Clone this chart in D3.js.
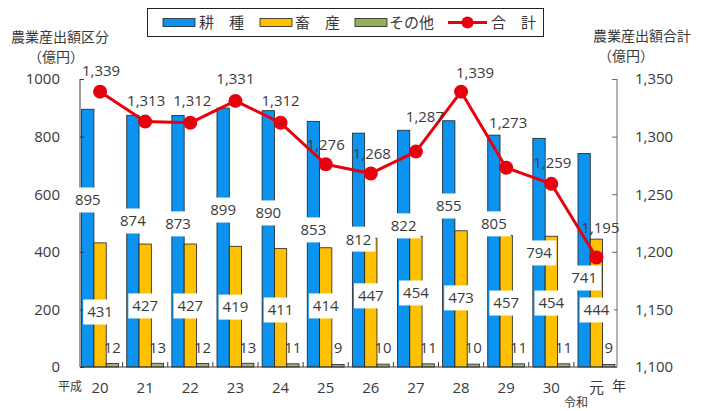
<!DOCTYPE html>
<html lang="ja">
<head>
<meta charset="utf-8">
<script src="https://cdn.jsdelivr.net/npm/d3@7"></script>
<style>
  html, body { margin: 0; padding: 0; background: #fff; }
  svg { display: block; }
  text { fill: #3a3a3a; }
</style>
</head>
<body>
<svg id="chart" width="707" height="411"></svg>
<script>
// 年次（平成20年〜令和元年）
const years = ["20", "21", "22", "23", "24", "25", "26", "27", "28", "29", "30", "元"];
// 部門別の農業産出額（億円）
const kousyu = [895, 874, 873, 899, 890, 853, 812, 822, 855, 805, 794, 741];
const chikusan = [431, 427, 427, 419, 411, 414, 447, 454, 473, 457, 454, 444];
const sonota = [12, 13, 12, 13, 11, 9, 10, 11, 10, 11, 11, 9];
// 農業産出額合計（億円）
const goukei = [1339, 1313, 1312, 1331, 1312, 1276, 1268, 1287, 1339, 1273, 1259, 1195];
// 軸目盛
const leftTicks = [0, 200, 400, 600, 800, 1000];
const rightTicks = [1100, 1150, 1200, 1250, 1300, 1350];

// ---- layout -------------------------------------------------------------
const W = 707, H = 411;
const axisLeftX = 80, axisRightX = 617, baseY = 367, topY = 79;
const NUM_FONT = "'Open Sans', 'Liberation Sans', sans-serif";
const JP_FONT = "'Noto Sans CJK JP', 'Noto Sans', sans-serif";
const COLORS = { kousyu: "#0c93ef", chikusan: "#ffc000", sonota: "#a3ad80", goukei: "#e8000d" };

// label heights, in left-axis units, for the boxed bar labels
const kousyuLabelAt = [580, 507, 497, 545, 535, 476, 444, 490, 559, 497, 396, 309];
const chikusanLabelAt = [191, 212, 212, 208, 198, 212, 247, 257, 240, 222, 222, 198];
const sonotaLabelAt = 66;
// offsets (px) of the total labels from their markers
const goukeiLabelOffset = [[1, -21], [1, -21], [2, -22], [0, -22], [0, -22], [0, -20],
  [1, -20], [9, -35], [14, -19], [2, -45], [1, -21], [4, -30]];

const svg = d3.select("#chart");

const x = d3.scaleBand().domain(years).range([77.5, 619]).paddingInner(0).paddingOuter(0);
const yL = d3.scaleLinear().domain([0, 1000]).range([baseY, topY]);
const yR = d3.scaleLinear().domain([1100, 1350]).range([baseY, topY]);

const barW = 12.3;
const series = [
  { key: "kousyu", values: kousyu, color: COLORS.kousyu },
  { key: "chikusan", values: chikusan, color: COLORS.chikusan },
  { key: "sonota", values: sonota, color: COLORS.sonota }
];
const barX = (i, s) => x(years[i]) + x.bandwidth() / 2 - 1.5 * barW + s * barW;

// ---- bars ---------------------------------------------------------------
series.forEach((s, si) => {
  svg.append("g").selectAll("rect").data(s.values).join("rect")
    .attr("x", (d, i) => barX(i, si))
    .attr("y", d => yL(d))
    .attr("width", barW)
    .attr("height", d => baseY - yL(d))
    .attr("fill", s.color)
    .attr("stroke", "#1f1f1f")
    .attr("stroke-width", 0.8);
});

// ---- axes ---------------------------------------------------------------
const axisColor = "#3a3a3a";
svg.append("line").attr("x1", axisLeftX).attr("x2", axisLeftX).attr("y1", topY).attr("y2", baseY)
  .attr("stroke", axisColor).attr("stroke-width", 1);
svg.append("line").attr("x1", axisRightX).attr("x2", axisRightX).attr("y1", topY).attr("y2", baseY)
  .attr("stroke", "#6a6a6a").attr("stroke-width", 1);
svg.append("line").attr("x1", axisLeftX).attr("x2", axisRightX).attr("y1", baseY).attr("y2", baseY)
  .attr("stroke", axisColor).attr("stroke-width", 1.2);

const leftAxis = svg.append("g").attr("transform", `translate(${axisLeftX},0)`)
  .call(d3.axisRight(yL).tickValues(leftTicks).tickSize(4).tickFormat(d3.format("d")));
leftAxis.select(".domain").remove();
leftAxis.selectAll(".tick line").attr("stroke", axisColor);
leftAxis.selectAll(".tick text").attr("x", -20).attr("text-anchor", "end")
  .style("font-family", NUM_FONT).style("font-size", "15px").attr("fill", "#3a3a3a");

const rightAxis = svg.append("g").attr("transform", `translate(${axisRightX},0)`)
  .call(d3.axisLeft(yR).tickValues(rightTicks).tickSize(5).tickFormat(d3.format(",")));
rightAxis.select(".domain").remove();
rightAxis.selectAll(".tick line").attr("stroke", "#6a6a6a");
rightAxis.selectAll(".tick text").attr("x", 18).attr("text-anchor", "start")
  .style("font-family", NUM_FONT).style("font-size", "15px").attr("fill", "#3a3a3a");

// category separators on the baseline
svg.append("g").selectAll("line").data(years.slice(1)).join("line")
  .attr("x1", d => x(d)).attr("x2", d => x(d))
  .attr("y1", baseY - 5).attr("y2", baseY)
  .attr("stroke", axisColor).attr("stroke-width", 1);

// category labels
svg.append("g").selectAll("text").data(years).join("text")
  .attr("x", d => x(d) + x.bandwidth() / 2)
  .attr("y", 393)
  .attr("text-anchor", "middle")
  .style("font-family", d => d === "元" ? JP_FONT : NUM_FONT)
  .style("font-size", "15px")
  .text(d => d);
svg.append("text").attr("x", 70).attr("y", 391).attr("text-anchor", "middle")
  .style("font-family", JP_FONT).style("font-size", "12px").text("平成");
svg.append("text").attr("x", 576).attr("y", 407).attr("text-anchor", "middle")
  .style("font-family", JP_FONT).style("font-size", "12px").text("令和");
svg.append("text").attr("x", 619).attr("y", 391).attr("text-anchor", "middle")
  .style("font-family", JP_FONT).style("font-size", "14px").text("年");

// ---- boxed bar labels ---------------------------------------------------
function boxedLabels(values, at, si) {
  const g = svg.append("g");
  values.forEach((v, i) => {
    const cx = barX(i, si) + barW / 2;
    const cy = yL(at[i]);
    const t = g.append("text").attr("x", cx).attr("y", cy).attr("dy", "0.36em")
      .attr("text-anchor", "middle")
      .style("font-family", NUM_FONT).style("font-size", "15px").text(v);
    const bb = t.node().getBBox();
    g.insert("rect", () => t.node())
      .attr("x", bb.x - 4).attr("y", cy - 12.5)
      .attr("width", bb.width + 8).attr("height", 25)
      .attr("fill", "#fff");
  });
}
boxedLabels(kousyu, kousyuLabelAt, 0);
boxedLabels(chikusan, chikusanLabelAt, 1);

svg.append("g").selectAll("text").data(sonota).join("text")
  .attr("x", (d, i) => barX(i, 2) + barW / 2)
  .attr("y", yL(sonotaLabelAt)).attr("dy", "0.36em")
  .attr("text-anchor", "middle")
  .style("font-family", NUM_FONT).style("font-size", "15px")
  .text(d => d);

// ---- total line ---------------------------------------------------------
const cxOf = i => x(years[i]) + x.bandwidth() / 2;
svg.append("path")
  .datum(goukei)
  .attr("d", d3.line().x((d, i) => cxOf(i)).y(d => yR(d)))
  .attr("fill", "none").attr("stroke", COLORS.goukei).attr("stroke-width", 3)
  .attr("stroke-linejoin", "round");
svg.append("g").selectAll("circle").data(goukei).join("circle")
  .attr("cx", (d, i) => cxOf(i)).attr("cy", d => yR(d)).attr("r", 7)
  .attr("fill", COLORS.goukei);
svg.append("g").selectAll("text").data(goukei).join("text")
  .attr("x", (d, i) => cxOf(i) + goukeiLabelOffset[i][0])
  .attr("y", (d, i) => yR(d) + goukeiLabelOffset[i][1]).attr("dy", "0.36em")
  .attr("text-anchor", "middle")
  .style("font-family", NUM_FONT).style("font-size", "15px")
  .text(d => d3.format(",")(d));

// ---- axis titles --------------------------------------------------------
svg.append("text").attr("x", 60).attr("y", 42).attr("text-anchor", "middle")
  .style("font-family", JP_FONT).style("font-size", "14px").text("農業産出額区分");
svg.append("text").attr("x", 56).attr("y", 62).attr("text-anchor", "middle")
  .style("font-family", JP_FONT).style("font-size", "14px").text("（億円）");
svg.append("text").attr("x", 642).attr("y", 41).attr("text-anchor", "middle")
  .style("font-family", JP_FONT).style("font-size", "14px").text("農業産出額合計");
svg.append("text").attr("x", 626).attr("y", 61).attr("text-anchor", "middle")
  .style("font-family", JP_FONT).style("font-size", "14px").text("（億円）");

// ---- legend -------------------------------------------------------------
const lg = svg.append("g");
lg.append("rect").attr("x", 147.5).attr("y", 8.5).attr("width", 396).attr("height", 28)
  .attr("fill", "#fff").attr("stroke", "#222").attr("stroke-width", 1);
const legendItems = [
  { label: "耕　種", color: COLORS.kousyu, sx: 163, tx: 199 },
  { label: "畜　産", color: COLORS.chikusan, sx: 260, tx: 295 },
  { label: "その他", color: "#92b05a", sx: 355, tx: 389 }
];
legendItems.forEach(it => {
  lg.append("rect").attr("x", it.sx).attr("y", 18.5).attr("width", 32).attr("height", 8)
    .attr("fill", it.color).attr("stroke", "#1f1f1f").attr("stroke-width", 0.8);
  lg.append("text").attr("x", it.tx).attr("y", 28)
    .style("font-family", JP_FONT).style("font-size", "15px").text(it.label);
});
lg.append("line").attr("x1", 448).attr("x2", 487).attr("y1", 22.5).attr("y2", 22.5)
  .attr("stroke", COLORS.goukei).attr("stroke-width", 3);
lg.append("circle").attr("cx", 467.5).attr("cy", 22.5).attr("r", 6).attr("fill", COLORS.goukei);
lg.append("text").attr("x", 491).attr("y", 28)
  .style("font-family", JP_FONT).style("font-size", "15px").text("合　計");
</script>
</body>
</html>
